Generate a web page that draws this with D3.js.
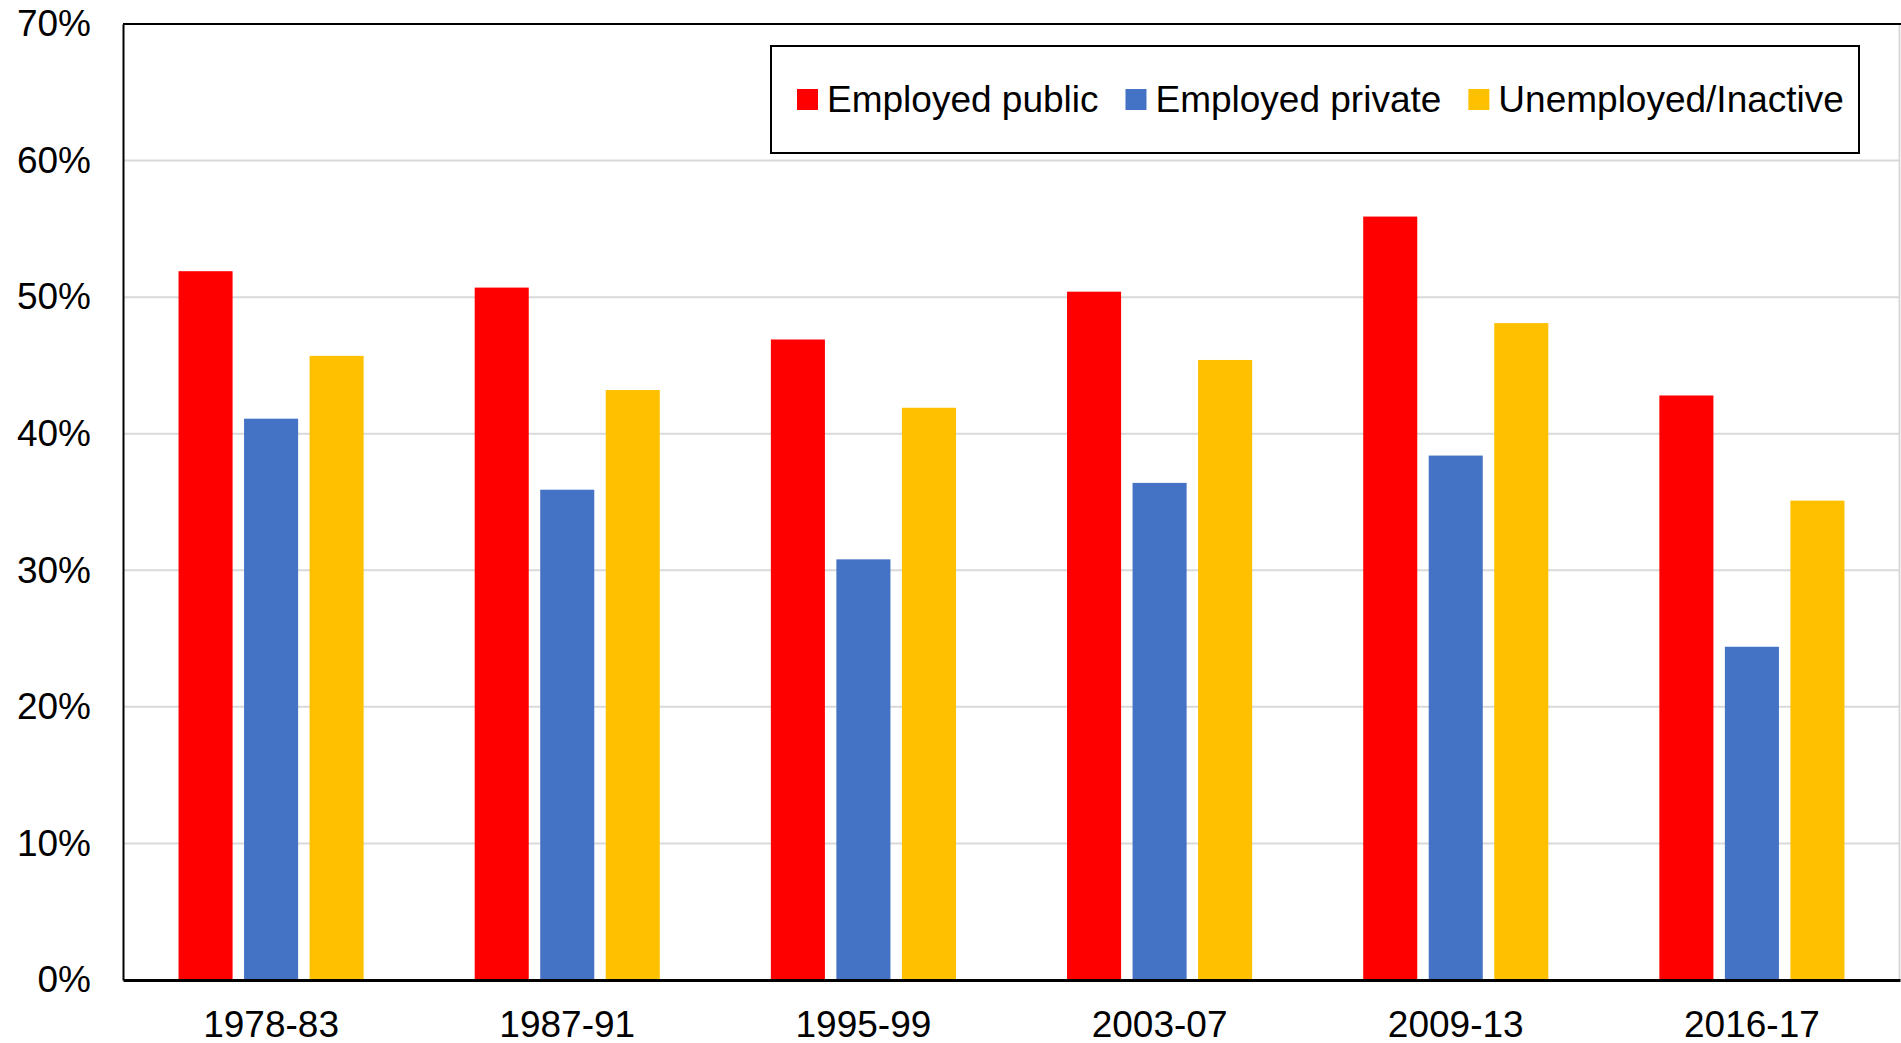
<!DOCTYPE html>
<html>
<head>
<meta charset="utf-8">
<script src="https://cdn.jsdelivr.net/npm/d3@7"></script>
<style>
  body { margin: 0; background: #fff; }
  text { font-family: "Liberation Sans", Arial, sans-serif; fill: #000; }
</style>
</head>
<body>
<div id="chart"></div>
<script>
// Les données
const periodes = ["1978-83", "1987-91", "1995-99", "2003-07", "2009-13", "2016-17"];
const series = ["Employed public", "Employed private", "Unemployed/Inactive"];
const couleurs = ["#FF0000", "#4472C4", "#FFC000"];
const employedPublic = [51.9, 50.7, 46.9, 50.4, 55.9, 42.8];
const employedPrivate = [41.1, 35.9, 30.8, 36.4, 38.4, 24.4];
const unemployed = [45.7, 43.2, 41.9, 45.4, 48.1, 35.1];
const ticksY = [0, 10, 20, 30, 40, 50, 60, 70];

const valeurs = [employedPublic, employedPrivate, unemployed];

const largeur = 1901, hauteur = 1043;
const marge = {haut: 24, droite: 1, bas: 63, gauche: 123};

const svg = d3.select("#chart").append("svg")
  .attr("width", largeur)
  .attr("height", hauteur);

// Echelles
const x0 = d3.scaleBand()
  .domain(periodes)
  .range([marge.gauche, largeur - marge.droite])
  .paddingInner(0.375)
  .paddingOuter(0.1875);

const x1 = d3.scaleBand()
  .domain(d3.range(series.length))
  .range([0, x0.bandwidth()])
  .paddingInner(0.175);

const y = d3.scaleLinear()
  .domain([0, 70])
  .range([hauteur - marge.bas, marge.haut]);

// Grille horizontale
svg.append("g")
  .selectAll("line")
  .data(ticksY.slice(1, -1))
  .join("line")
  .attr("x1", marge.gauche)
  .attr("x2", largeur - marge.droite)
  .attr("y1", d => y(d))
  .attr("y2", d => y(d))
  .attr("stroke", "#D9D9D9")
  .attr("stroke-width", 2);

// Barres
periodes.forEach((p, i) => {
  svg.append("g")
    .selectAll("rect")
    .data(valeurs.map((v, s) => ({s: s, v: v[i]})))
    .join("rect")
    .attr("x", d => x0(p) + x1(d.s))
    .attr("y", d => y(d.v))
    .attr("width", x1.bandwidth())
    .attr("height", d => y(0) - y(d.v))
    .attr("fill", d => couleurs[d.s]);
});

// Cadre
svg.append("line") // bord droit, gris
  .attr("x1", largeur - 1.5).attr("x2", largeur - 1.5)
  .attr("y1", marge.haut).attr("y2", y(0))
  .attr("stroke", "#D9D9D9").attr("stroke-width", 2);
svg.append("line") // haut
  .attr("x1", marge.gauche).attr("x2", largeur)
  .attr("y1", marge.haut).attr("y2", marge.haut)
  .attr("stroke", "#000").attr("stroke-width", 2);

// Axe Y
const axeY = svg.append("g")
  .attr("transform", `translate(${marge.gauche},0)`)
  .call(d3.axisLeft(y).tickValues(ticksY).tickFormat(d => d + "%").tickSize(0).tickPadding(32));
axeY.select(".domain").attr("stroke", "#000").attr("stroke-width", 2);
axeY.selectAll("text").style("font-size", "37px").attr("fill", "#000")
  .style("font-family", '"Liberation Sans", Arial, sans-serif');

// Axe X
const axeX = svg.append("g")
  .attr("transform", `translate(0,${y(0)})`)
  .call(d3.axisBottom(x0).tickSize(0).tickPadding(31));
axeX.select(".domain").attr("stroke", "#000").attr("stroke-width", 3);
axeX.selectAll("text").style("font-size", "37px").attr("fill", "#000")
  .style("font-family", '"Liberation Sans", Arial, sans-serif');

// Légende
const legende = svg.append("g");
legende.append("rect")
  .attr("x", 771).attr("y", 46)
  .attr("width", 1088).attr("height", 107)
  .attr("fill", "#fff")
  .attr("stroke", "#000").attr("stroke-width", 2);

let xl = 797;
series.forEach((nom, i) => {
  legende.append("rect")
    .attr("x", xl).attr("y", 89)
    .attr("width", 21).attr("height", 21)
    .attr("fill", couleurs[i]);
  const t = legende.append("text")
    .attr("x", xl + 30).attr("y", 112)
    .style("font-size", "37px")
    .text(nom);
  xl += 30 + t.node().getComputedTextLength() + 27;
});
</script>
</body>
</html>
